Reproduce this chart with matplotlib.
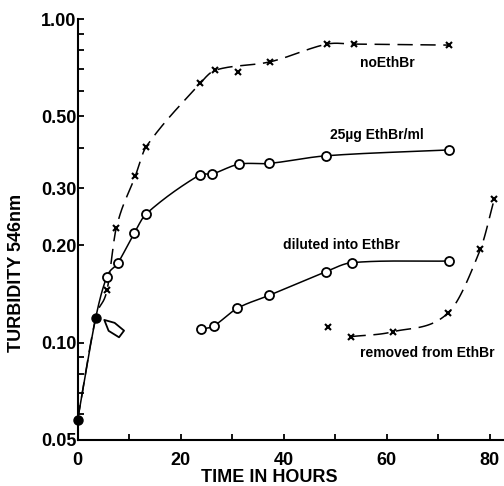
import numpy as np
import matplotlib
matplotlib.use("Agg")
import matplotlib.pyplot as plt
from matplotlib.path import Path
from matplotlib.markers import MarkerStyle
from matplotlib.transforms import Affine2D
from matplotlib.ticker import FixedLocator, NullFormatter

plt.rcParams['font.family'] = ['Liberation Sans', 'DejaVu Sans']
plt.rcParams['font.weight'] = 'bold'

# values (hours, turbidity at 546 nm)
start_t = [0.0, 3.5]
start_od = [0.0576, 0.119]

no_ethbr_t = [5.7, 7.5, 11.2, 13.3, 23.8, 26.7, 31.2, 37.4, 48.4, 53.6, 72.2]
no_ethbr_od = [0.145, 0.226, 0.327, 0.403, 0.633, 0.695, 0.687, 0.738, 0.837, 0.837, 0.831]

ethbr_t = [5.7, 7.8, 11.0, 13.3, 23.7, 26.1, 31.3, 37.2, 48.3, 72.1]
ethbr_od = [0.160, 0.176, 0.218, 0.250, 0.330, 0.332, 0.356, 0.358, 0.378, 0.394]

diluted_t = [24.0, 26.4, 31.0, 37.2, 48.2, 53.2, 72.1]
diluted_od = [0.110, 0.1125, 0.1276, 0.140, 0.1656, 0.1766, 0.1787]

removed_t = [48.6, 53.0, 61.2, 72.0, 78.2, 80.9]
removed_od = [0.112, 0.1043, 0.108, 0.1237, 0.194, 0.277]

# time the drug was added (open arrow)
arrow_t, arrow_od = 6.7, 0.112

y_major = [0.05, 0.10, 0.20, 0.30, 0.50, 1.00]
y_major_labels = ['0.05', '0.10', '0.20', '0.30', '0.50', '1.00']
y_minor = [0.06, 0.07, 0.08, 0.09, 0.4, 0.6, 0.7, 0.8, 0.9]
x_major = [0, 20, 40, 60, 80]
x_minor = [10, 30, 50, 70]


def smooth(t, od, n=30):
    # cubic hermite through the points (log y), only to draw a smooth hand-like curve
    x = np.asarray(t, float)
    y = np.log10(od)
    m = np.empty_like(y)
    m[1:-1] = (y[2:] - y[:-2]) / (x[2:] - x[:-2])
    m[0] = (y[1] - y[0]) / (x[1] - x[0])
    m[-1] = (y[-1] - y[-2]) / (x[-1] - x[-2])
    xs, ys = [], []
    for i in range(len(x) - 1):
        h = x[i + 1] - x[i]
        s = np.linspace(0, 1, n, endpoint=False)
        h00 = 2 * s ** 3 - 3 * s ** 2 + 1
        h10 = s ** 3 - 2 * s ** 2 + s
        h01 = -2 * s ** 3 + 3 * s ** 2
        h11 = s ** 3 - s ** 2
        xs.append(x[i] + s * h)
        ys.append(h00 * y[i] + h10 * h * m[i] + h01 * y[i + 1] + h11 * h * m[i + 1])
    xs.append([x[-1]])
    ys.append([y[-1]])
    return np.concatenate(xs), 10 ** np.concatenate(ys)


fig = plt.figure(figsize=(5.04, 4.86), dpi=100)
ax = fig.add_axes([0.154, 0.0947, 0.846, 0.866])

lw = 1.1
dash = (0, (10, 5))

# curves (the x point at 31 h and the first "removed" point sit off the drawn curves)
line_t = start_t + [t for t in no_ethbr_t if t != 31.2]
line_od = start_od + [v for t, v in zip(no_ethbr_t, no_ethbr_od) if t != 31.2]
tx, ty = smooth(line_t, line_od)
ax.plot(tx, ty, color='black', lw=lw, linestyle=dash)
tx, ty = smooth(start_t + ethbr_t, start_od + ethbr_od)
ax.plot(tx, ty, color='black', lw=lw)
tx, ty = smooth(diluted_t, diluted_od)
ax.plot(tx, ty, color='black', lw=lw)
tx, ty = smooth(removed_t[1:], removed_od[1:])
ax.plot(tx, ty, color='black', lw=lw, linestyle=dash)

# points
ax.plot(no_ethbr_t, no_ethbr_od, 'x', color='black', ms=4.5, mew=1.5)
ax.plot(removed_t, removed_od, 'x', color='black', ms=4.5, mew=1.5)
ax.plot(ethbr_t, ethbr_od, 'o', mfc='white', mec='black', ms=6.5, mew=1.3)
ax.plot(diluted_t, diluted_od, 'o', mfc='white', mec='black', ms=6.5, mew=1.3)
ax.plot(start_t, start_od, 'o', color='black', ms=6.5, clip_on=False, zorder=5)

# open arrow
arrow_path = Path([(-1, 0.1), (-0.1, 0.45), (1, 0.4), (1, -0.35), (-0.1, -0.45), (-1, 0.1)],
                  [Path.MOVETO, Path.LINETO, Path.LINETO, Path.LINETO, Path.LINETO, Path.CLOSEPOLY])
arrow_marker = MarkerStyle(arrow_path, transform=Affine2D().rotate_deg(-37))
ax.plot([arrow_t], [arrow_od], marker=arrow_marker, ms=16, mfc='white', mec='black', mew=1.3,
        linestyle='none')

# curve labels
ax.text(54.9, 0.731, 'noEthBr', fontsize=10, va='center', ha='left')
ax.text(49.0, 0.438, '25\u00b5g EthBr/ml', fontsize=10, va='center', ha='left')
ax.text(39.9, 0.200, 'diluted into EthBr', fontsize=10, va='center', ha='left')
ax.text(54.9, 0.0929, 'removed from EthBr', fontsize=10, va='center', ha='left')

ax.set_yscale('log')
ax.set_ylim(0.05, 1.0)
ax.set_xlim(0, 82.8)

ax.yaxis.set_major_locator(FixedLocator(y_major))
ax.set_yticklabels(y_major_labels)
ax.yaxis.set_minor_locator(FixedLocator(y_minor))
ax.yaxis.set_minor_formatter(NullFormatter())
ax.xaxis.set_major_locator(FixedLocator(x_major))
ax.xaxis.set_minor_locator(FixedLocator(x_minor))

for s in ['top', 'right']:
    ax.spines[s].set_visible(False)
for s in ['left', 'bottom']:
    ax.spines[s].set_linewidth(1.5)

ax.tick_params(axis='both', which='both', direction='in', width=1.3, length=4)
ax.tick_params(axis='y', which='major', pad=1, labelsize=13)
ax.tick_params(axis='x', which='major', pad=9, labelsize=13)

fig.text(269 / 504, 1 - 477 / 486, 'TIME IN HOURS', fontsize=13, ha='center', va='center')
fig.text(17 / 504, 1 - 273 / 486, 'TURBIDITY 546nm', fontsize=13, rotation=90,
         ha='center', va='center')

fig.savefig('out.png', dpi=100)
